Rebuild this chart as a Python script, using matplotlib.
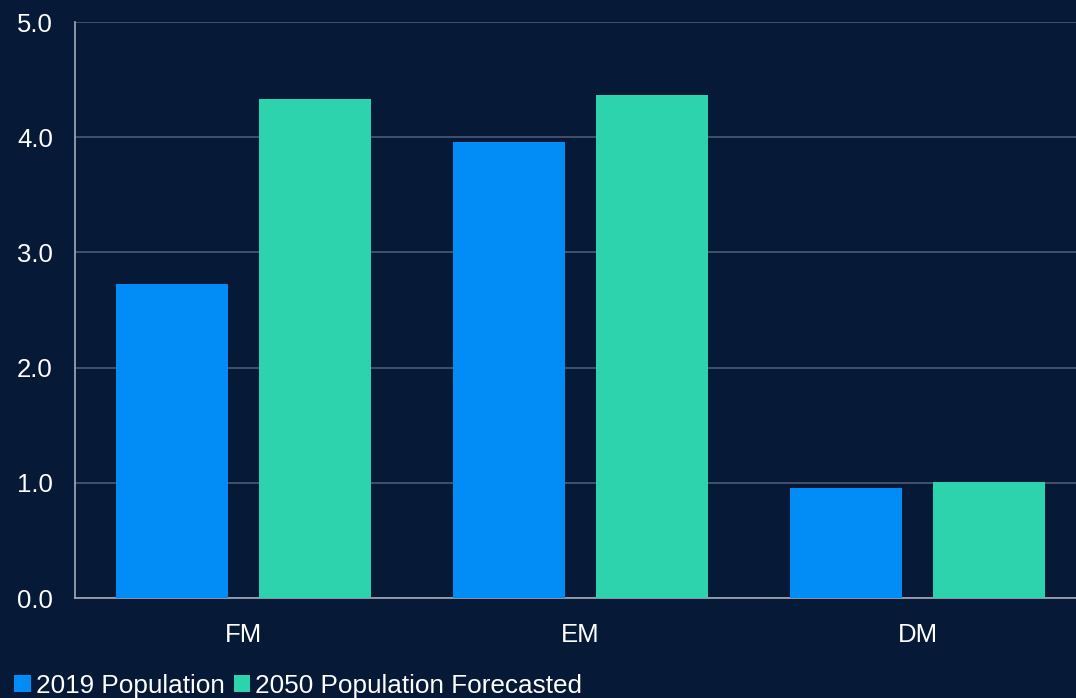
import matplotlib
matplotlib.use("Agg")
import matplotlib.pyplot as plt
import numpy as np

categories = ["FM", "EM", "DM"]
pop_2019 = [2.73, 3.96, 0.955]
pop_2050 = [4.33, 4.37, 1.005]
series_names = ["2019 Population", "2050 Population Forecasted"]
y_ticks = [0.0, 1.0, 2.0, 3.0, 4.0, 5.0]

BG = "#061A38"
BLUE = "#028CF5"
GREEN = "#2DD3AC"
GRID = "#4B5A72"
SPINE = "#A3ABB8"
TEXT = "#FFFFFF"

plt.rcParams['font.family'] = ['Liberation Sans', 'DejaVu Sans']

W, H = 1076, 698
fig = plt.figure(figsize=(W / 100, H / 100), dpi=100, facecolor=BG)
left, right, top, bottom = 75, 1086, 22, 598
ax = fig.add_axes([left / W, 1 - bottom / H, (right - left) / W, (bottom - top) / H])
ax.set_facecolor(BG)

x = np.arange(len(categories))
bw = 0.332
off = 0.211
ax.bar(x - off, pop_2019, width=bw, color=BLUE, label=series_names[0], zorder=3)
ax.bar(x + off, pop_2050, width=bw, color=GREEN, label=series_names[1], zorder=3)

ax.set_xlim(-0.5, 2.5)
ax.set_ylim(0, 5)
ax.set_yticks(y_ticks)
ax.set_yticklabels([f"{v:.1f}" for v in y_ticks])
ax.set_xticks(x)
ax.set_xticklabels(categories)
ax.yaxis.grid(True, color=GRID, linewidth=1.2, zorder=0)
ax.set_axisbelow(True)
ax.tick_params(axis='both', length=0, colors=TEXT, labelsize=18.5)
ax.tick_params(axis='y', pad=16)
ax.tick_params(axis='x', pad=18)
for s in ["top", "right"]:
    ax.spines[s].set_visible(False)
for s in ["left", "bottom"]:
    ax.spines[s].set_color(SPINE)
    ax.spines[s].set_linewidth(1.2)

leg = fig.legend(loc="lower left", bbox_to_anchor=(4 / W, -0.0145), ncol=2, frameon=False,
                 fontsize=18.8, handlelength=0.62, handleheight=0.62, handletextpad=0.2,
                 columnspacing=0.35, labelcolor=TEXT, borderaxespad=0)

fig.savefig("out.png", dpi=100, facecolor=BG)
